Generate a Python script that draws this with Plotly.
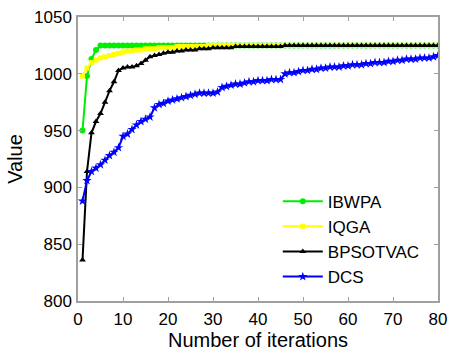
import plotly.graph_objects as go

iters = list(range(1, 81))

ibwpa = [950, 998, 1013, 1021, 1025] + [1025] * 75

iqga = [998, 1005, 1010, 1012, 1014, 1015, 1016, 1017, 1018, 1019,
        1020, 1020, 1021, 1021, 1022, 1022, 1022, 1023, 1023, 1023,
        1023, 1024, 1024, 1024, 1024, 1024, 1024, 1024, 1025, 1025] + [1025] * 50

bpsotvac = [836, 914, 948, 958, 965, 975, 985, 993, 1003, 1005,
            1006, 1006, 1007, 1009, 1012, 1015, 1016, 1017, 1018, 1019,
            1019, 1020, 1020, 1021, 1021, 1021, 1022, 1022, 1022, 1023,
            1023, 1023, 1023, 1023, 1024, 1024, 1024, 1024, 1024, 1024,
            1024, 1024, 1024, 1024, 1024, 1025, 1025, 1025, 1025, 1025] + [1025] * 30

dcs = [888, 906, 914, 917, 920, 924, 928, 931, 935, 945,
       947, 951, 955, 958, 960, 962, 970, 973, 974, 976,
       977, 978, 979, 980, 981, 982, 983, 983, 983, 983,
       984, 988, 989, 990, 991, 991, 992, 993, 993, 994,
       994, 994, 995, 995, 995, 1000, 1001, 1001, 1002, 1003,
       1003, 1004, 1004, 1005, 1005, 1006, 1006, 1006, 1007, 1007,
       1008, 1008, 1008, 1009, 1009, 1010, 1010, 1010, 1011, 1011,
       1012, 1012, 1013, 1013, 1013, 1014, 1014, 1014, 1015, 1016]

series = [
    ("IBWPA", ibwpa, "#00ee00", "circle", 6),
    ("IQGA", iqga, "#ffff00", "square", 5),
    ("BPSOTVAC", bpsotvac, "#000000", "triangle-up", 6),
    ("DCS", dcs, "#0000ff", "star", 7),
]

fig = go.Figure()
for name, vals, color, sym, sz in series:
    fig.add_trace(go.Scatter(
        x=iters, y=vals, name=name, mode="lines+markers",
        line=dict(color=color, width=2),
        marker=dict(symbol=sym, size=sz, color=color),
    ))

axis_common = dict(
    showline=True, linecolor="#a0a0a0", linewidth=1.5, mirror="ticks",
    ticks="inside", ticklen=4, tickcolor="#a0a0a0",
    showgrid=False, zeroline=False,
    tickfont=dict(family="Liberation Sans, Arial", size=17, color="black"),
)

fig.update_layout(
    width=455, height=358,
    margin=dict(l=78, r=8, t=14, b=57),
    paper_bgcolor="white", plot_bgcolor="white",
    font=dict(family="Liberation Sans, Arial", size=17, color="black"),
    showlegend=True,
    legend=dict(x=0.555, y=0.413, xanchor="left", yanchor="top",
                bgcolor="rgba(255,255,255,0)", borderwidth=0,
                font=dict(size=17), tracegroupgap=0, itemwidth=40),
    xaxis=dict(range=[0, 80], tickvals=[0, 10, 20, 30, 40, 50, 60, 70, 80],
               ticklabelstandoff=2,
               title=dict(text="Number of iterations", standoff=4), **axis_common),
    yaxis=dict(range=[800, 1050], tickvals=[800, 850, 900, 950, 1000, 1050],
               ticklabelstandoff=1,
               title=dict(text="Value", standoff=6), **axis_common),
)

fig.write_html("out.html")
